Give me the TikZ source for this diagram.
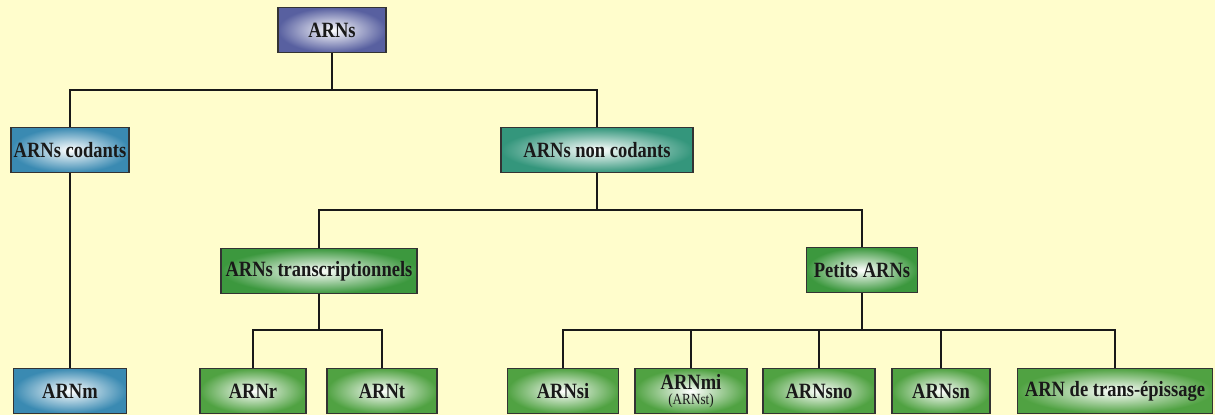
\documentclass[tikz,border=0pt]{standalone}
\usepackage{fontspec}
\setmainfont[FakeStretch=0.85]{Liberation Serif}
\usepackage{tikz}
\definecolor{arnbg}{RGB}{255,253,204}
\definecolor{arnpurple}{RGB}{88,96,160}
\definecolor{arnblue}{RGB}{58,138,178}
\definecolor{arnteal}{RGB}{52,150,124}
\definecolor{arngreen}{RGB}{60,152,62}
\definecolor{arnlgreen}{RGB}{80,162,66}
\tikzset{
  arnbox/.style={draw=black!80,line width=1.3pt,rectangle,inner sep=1pt,
    minimum height=45*0.025cm,font=\fontsize{15.5}{15}\selectfont\bfseries,
    inner color=white,outer color=#1,text=black!90},
  link/.style={line width=1pt,draw=black!90}
}
\begin{document}
\begin{tikzpicture}[x=0.025cm,y=-0.025cm]
\fill[arnbg] (0,0) rectangle (1215,415);
\useasboundingbox (0,0) rectangle (1215,415);
\node[arnbox=arnpurple,minimum width=108*0.025cm] (arns) at (332,30) {ARNs};
\node[arnbox=arnblue,minimum width=118*0.025cm] (codants) at (70,150) {ARNs codants};
\node[arnbox=arnteal,minimum width=192*0.025cm] (noncod) at (597,150) {ARNs non codants};
\node[arnbox=arngreen,minimum width=196*0.025cm] (transc) at (319,271) {ARNs transcriptionnels};
\node[arnbox=arngreen,minimum width=111*0.025cm] (petits) at (862,270) {Petits ARNs};
\node[arnbox=arnblue,minimum width=113*0.025cm] (arnm) at (70,391) {ARNm};
\node[arnbox=arnlgreen,minimum width=106*0.025cm] (arnr) at (253,391) {ARNr};
\node[arnbox=arnlgreen,minimum width=110*0.025cm] (arnt) at (382,391) {ARNt};
\node[arnbox=arnlgreen,minimum width=111*0.025cm] (arnsi) at (563,391) {ARNsi};
\node[arnbox=arnlgreen,minimum width=112*0.025cm,align=center] (arnmi) at (691,391) {ARNmi\\[-4pt]{\fontsize{11}{11}\selectfont\mdseries (ARNst)}};
\node[arnbox=arnlgreen,minimum width=112*0.025cm] (arnsno) at (819,391) {ARNsno};
\node[arnbox=arnlgreen,minimum width=98*0.025cm] (arnsn) at (941,391) {ARNsn};
\node[arnbox=arnlgreen,minimum width=195*0.025cm] (trans) at (1115,391) {ARN de trans-épissage};
\coordinate (j1) at (332,90);
\coordinate (j2) at (597,210);
\coordinate (j3) at (319,330);
\coordinate (j4) at (862,330);
\draw[link] (arns) -- (j1) -| (codants);
\draw[link] (j1) -| (noncod);
\draw[link] (codants) -- (arnm);
\draw[link] (noncod) -- (j2) -| (transc);
\draw[link] (j2) -| (petits);
\draw[link] (transc) -- (j3) -| (arnr);
\draw[link] (j3) -| (arnt);
\draw[link] (petits) -- (j4) -| (arnsi);
\draw[link] (j4) -| (trans);
\draw[link] (j4 -| arnmi) -- (arnmi);
\draw[link] (j4 -| arnsno) -- (arnsno);
\draw[link] (j4 -| arnsn) -- (arnsn);
\end{tikzpicture}
\end{document}
